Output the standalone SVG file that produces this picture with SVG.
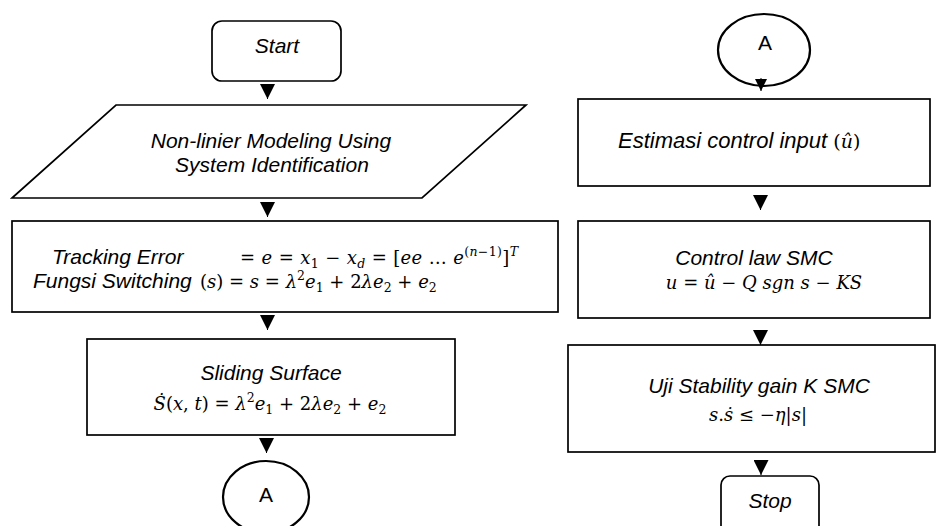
<svg xmlns="http://www.w3.org/2000/svg" width="936" height="526" viewBox="0 0 936 526">
<style>
.n{fill:#fff;stroke:#000;stroke-width:1.7}
.c{fill:#fff;stroke:#000;stroke-width:2.2}
.t{font-family:"Liberation Sans",Arial,sans-serif;font-style:italic;font-size:21px;fill:#000}
.r{font-family:"Liberation Sans",Arial,sans-serif;font-style:normal;font-size:21px;fill:#000}
.m{font-family:"DejaVu Serif","Liberation Serif",serif;font-style:italic;font-size:18px;fill:#000}
.u{font-style:normal}
.b{font-style:normal;font-size:12.5px}
.bi{font-size:12.5px}
.k{stroke:#000;stroke-width:1;fill:none}
</style>
<defs>
<marker id="ah" viewBox="0 0 10 10" refX="10" refY="5" markerWidth="15" markerHeight="15" markerUnits="userSpaceOnUse" orient="auto">
<path d="M0,0 L10,5 L0,10 z" fill="#000"/>
</marker>
<marker id="ahs" viewBox="0 0 10 10" refX="10" refY="5" markerWidth="13" markerHeight="12" markerUnits="userSpaceOnUse" orient="auto">
<path d="M0,0 L10,5 L0,10 z" fill="#000"/>
</marker>
</defs>

<g id="start">
<rect class="n" x="212" y="21" width="129" height="60" rx="10"/>
<text class="t" x="277" y="53" text-anchor="middle">Start</text>
</g>

<g id="modeling">
<polygon class="n" points="116,105 526,105 422,198 12,198"/>
<text class="t" x="271" y="148" text-anchor="middle">Non-linier Modeling Using</text>
<text class="t" x="272" y="172" text-anchor="middle">System Identification</text>
</g>

<g id="tracking">
<rect class="n" x="12" y="221" width="546" height="91"/>
<text class="t" x="52" y="264">Tracking Error</text>
<text class="m" x="240" y="264" textLength="278" lengthAdjust="spacing"><tspan class="u">= </tspan>e<tspan class="u"> = </tspan>x<tspan class="b" dy="4">1</tspan><tspan class="u" dy="-4"> − </tspan>x<tspan class="bi" dy="4">d</tspan><tspan class="u" dy="-4"> = [</tspan>ee<tspan class="u"> … </tspan>e<tspan class="b" dy="-8">(</tspan><tspan class="bi">n</tspan><tspan class="b">−1)</tspan><tspan class="u" dy="8">]</tspan><tspan class="bi" dy="-8">T</tspan></text>
<text class="t" x="33" y="288">Fungsi Switching</text>
<text class="m" x="200" y="288"><tspan class="u">(</tspan>s<tspan class="u">) = </tspan>s<tspan class="u"> = </tspan>λ<tspan class="b" dy="-8">2</tspan><tspan dy="8">e</tspan><tspan class="b" dy="4">1</tspan><tspan class="u" dy="-4"> + 2</tspan>λe<tspan class="b" dy="4">2</tspan><tspan class="u" dy="-4"> + </tspan>e<tspan class="b" dy="4">2</tspan></text>
</g>

<g id="sliding">
<rect class="n" x="87" y="339" width="368" height="96"/>
<text class="t" x="271" y="380" text-anchor="middle">Sliding Surface</text>
<text class="m" x="270" y="410" text-anchor="middle">Ṡ<tspan class="u">(</tspan>x<tspan class="u">, </tspan>t<tspan class="u">) = </tspan>λ<tspan class="b" dy="-8">2</tspan><tspan dy="8">e</tspan><tspan class="b" dy="4">1</tspan><tspan class="u" dy="-4"> + 2</tspan>λe<tspan class="b" dy="4">2</tspan><tspan class="u" dy="-4"> + </tspan>e<tspan class="b" dy="4">2</tspan></text>
</g>

<g id="connectorA1">
<ellipse class="c" cx="266" cy="497" rx="43" ry="36"/>
<text class="r" x="266" y="502" text-anchor="middle">A</text>
</g>

<g id="connectorA2">
<ellipse class="c" cx="764" cy="50" rx="46" ry="36"/>
<text class="r" x="765" y="50" text-anchor="middle">A</text>
</g>

<g id="estimasi">
<rect class="n" x="578" y="99" width="352" height="87"/>
<text class="t" x="618" y="148" style="font-size:22px">Estimasi control input <tspan class="m u" style="font-size:19px">(</tspan><tspan class="m" style="font-size:19px">û</tspan><tspan class="m u" style="font-size:19px">)</tspan></text>
</g>

<g id="controllaw">
<rect class="n" x="578" y="221" width="352" height="97"/>
<text class="t" x="754" y="265" text-anchor="middle">Control law SMC</text>
<text class="m" x="764" y="289" text-anchor="middle">u<tspan class="u"> = </tspan>û<tspan class="u"> − </tspan>Q sgn s<tspan class="u"> − </tspan>KS</text>
</g>

<g id="stability">
<rect class="n" x="568" y="345" width="367" height="107"/>
<text class="t" x="759" y="393" text-anchor="middle">Uji Stability gain K SMC</text>
<text class="m" x="758" y="421" text-anchor="middle">s<tspan class="u">.</tspan>ṡ<tspan class="u"> ≤ −</tspan>η<tspan class="u">|</tspan>s<tspan class="u">|</tspan></text>
</g>

<g id="stop">
<rect class="n" x="721" y="476" width="98" height="62" rx="9"/>
<text class="t" x="770" y="508" text-anchor="middle">Stop</text>
</g>

<g id="connectors">
<path class="k" d="M267.5,84 L267.5,99" marker-end="url(#ah)"/>
<path class="k" d="M267.5,202 L267.5,217" marker-end="url(#ah)"/>
<path class="k" d="M267.5,315 L267.5,330" marker-end="url(#ah)"/>
<path class="k" d="M266.5,438 L266.5,453" marker-end="url(#ah)"/>
<path class="k" d="M761,78 L761,91" marker-end="url(#ahs)"/>
<path class="k" d="M760.5,195 L760.5,210" marker-end="url(#ah)"/>
<path class="k" d="M760.5,330 L760.5,345" marker-end="url(#ah)"/>
<path class="k" d="M761,460 L761,475" marker-end="url(#ah)"/>
</g>
</svg>
